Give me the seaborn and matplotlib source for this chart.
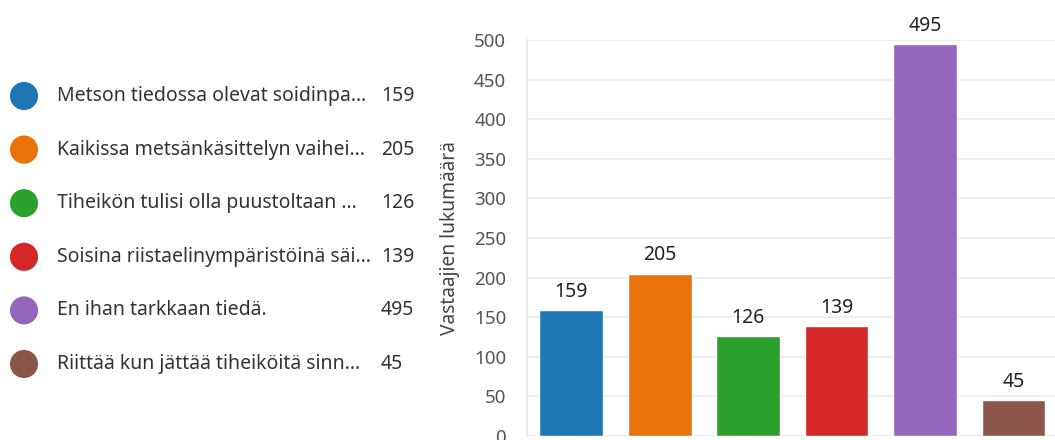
import numpy as np
import pandas as pd
import matplotlib
matplotlib.use("Agg")
import matplotlib.pyplot as plt
import seaborn as sns

# data
categories = [
    "Metson tiedossa olevat soidinpa…",
    "Kaikissa metsänkäsittelyn vaihei…",
    "Tiheikön tulisi olla puustoltaan …",
    "Soisina riistaelinympäristöinä säi…",
    "En ihan tarkkaan tiedä.",
    "Riittää kun jättää tiheiköitä sinn…",
]
counts = [159, 205, 126, 139, 495, 45]
colors = ["#1f77b4", "#e9720a", "#2ca02c", "#d62728", "#9467bd", "#8c564b"]
y_ticks = [0, 50, 100, 150, 200, 250, 300, 350, 400, 450, 500]
y_label = "Vastaajien lukumäärä"

sns.set_theme(style="white")
plt.rcParams["font.family"] = ["Noto Sans", "DejaVu Sans"]

W, H = 1055, 440
fig = plt.figure(figsize=(W / 100, H / 100), dpi=100)

# -------------------------------
# bar chart
# -------------------------------
ax = fig.add_axes([527 / W, 4 / H, (W - 527) / W, 396 / H])
df = pd.DataFrame({"cat": categories, "n": counts})
sns.barplot(data=df, x="cat", y="n", hue="cat", palette=colors, width=0.72,
            legend=False, saturation=1, ax=ax)
ax.set_ylim(0, 500)
ax.set_xlim(-0.5, 5.47)
ax.set_yticks(y_ticks)
ax.set_xticks([])
ax.set_xlabel("")
ax.set_ylabel(y_label, fontsize=13.8, color="#444444", labelpad=10)
ax.grid(axis="y", color="#ebebeb", linewidth=1.2)
ax.set_axisbelow(True)
for s in ["top", "right", "bottom"]:
    ax.spines[s].set_visible(False)
ax.spines["left"].set_color("#e6e6e6")
ax.spines["left"].set_linewidth(1.2)
ax.tick_params(axis="y", length=10, width=1.2, color="#ebebeb",
               labelsize=13.5, labelcolor="#555555", pad=5)
for c in ax.containers:
    ax.bar_label(c, padding=6, fontsize=14, color="#222222")

# -------------------------------
# legend on the left
# -------------------------------
lg = fig.add_axes([0, 0, 500 / W, 1])
lg.set_xlim(0, 500)
lg.set_ylim(6.418, -1.791)
lg.axis("off")
idx = np.arange(len(categories))
sns.scatterplot(x=np.full(len(idx), 24), y=idx, hue=categories, palette=colors,
                s=410, linewidth=0, legend=False, ax=lg)
for i, (lab, n) in enumerate(zip(categories, counts)):
    lg.text(57, i, lab, va="center", ha="left", fontsize=14, color="#333333")
    lg.text(381, i, str(n), va="center", ha="left", fontsize=14, color="#333333")

fig.savefig("out.png", dpi=100)
